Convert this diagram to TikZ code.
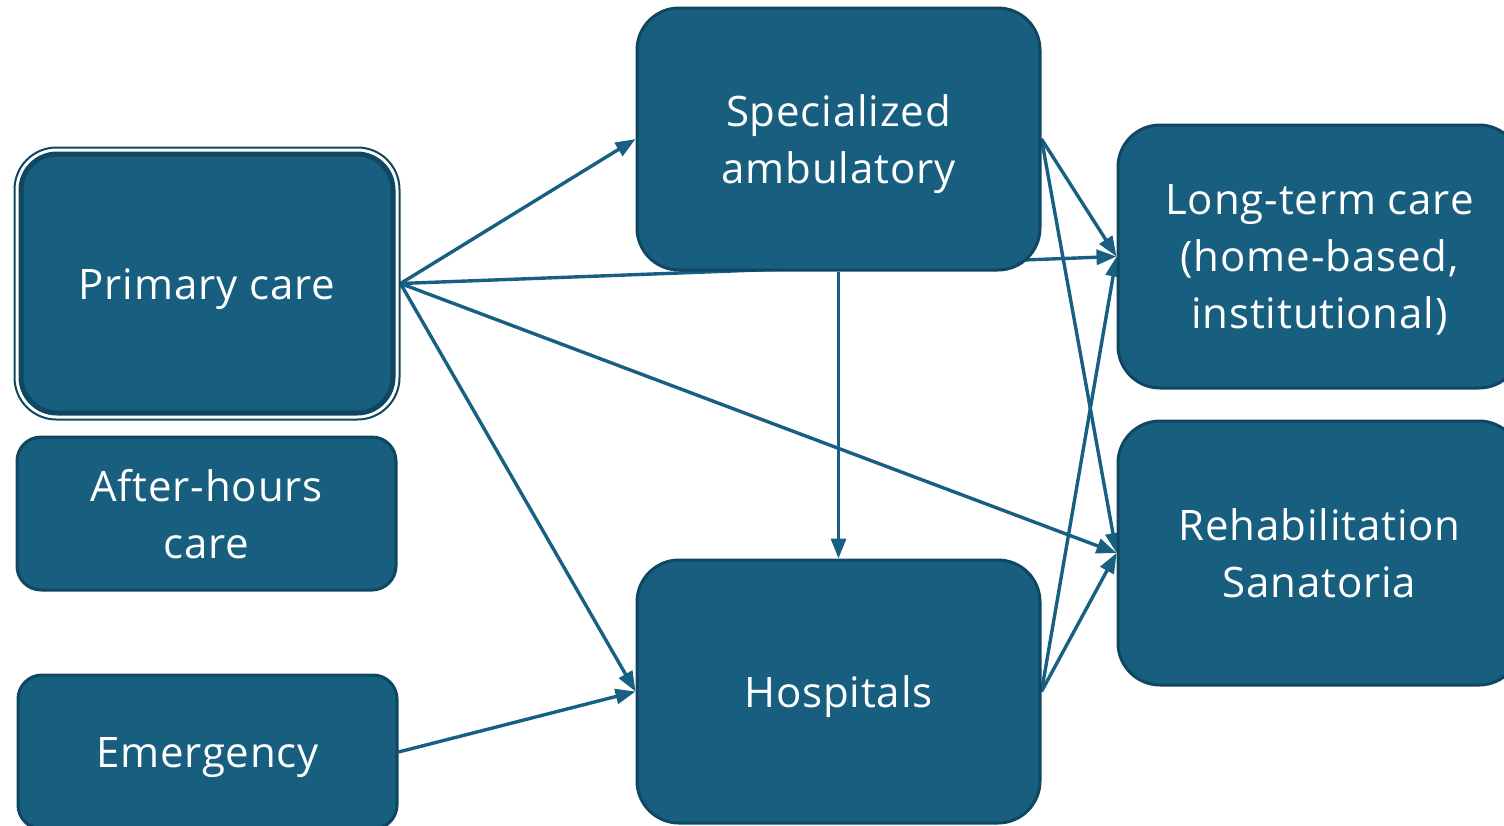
\documentclass[tikz,border=0pt]{standalone}
\usepackage{fontspec}
\setmainfont{Open Sans}[LetterSpace=2]
\usepackage{tikz}
\usetikzlibrary{arrows.meta,positioning,calc,backgrounds,fit}
\definecolor{boxfill}{RGB}{23,94,127}
\definecolor{boxline}{RGB}{15,70,97}
\definecolor{arrowblue}{RGB}{24,96,130}
\newcommand{\upstrut}{\rule{0pt}{42pt}}
\newcommand{\downstrut}{\rule[-10pt]{0pt}{10pt}}
\tikzstyle{Cbox}=[shape=rectangle,draw=boxline,fill=boxfill,line width=3pt,rounded corners=42pt,text=white,align=center,inner sep=0pt,execute at begin node=\upstrut,execute at end node=\downstrut,font=\fontsize{42}{57}\selectfont]
\tikzstyle{Sbox}=[Cbox,rounded corners=24pt]
\tikzstyle{Mlines}=[text depth=0pt]
\tikzstyle{flow}=[-{Triangle[length=20pt,width=15pt]},draw=arrowblue,line width=3.4pt]

\begin{document}
\begin{tikzpicture}[x=1pt,y=-1pt]
 \useasboundingbox (0,0) rectangle (1504,825);
 \clip (0,0) rectangle (1504,825);

\node[Cbox,line width=5pt,rounded corners=36pt,minimum width=372pt,minimum height=259pt] (prim) at (207,283.5) {Primary care};
\node[fit=(prim),inner sep=4pt,draw=boxline,line width=2pt,rounded corners=42pt] (primring) {};
\node[Sbox,Mlines,minimum width=379pt,minimum height=153pt] (after) at (206.5,513.5) {After-hours\\care};
\node[Sbox,minimum width=379pt,minimum height=154pt] (emerg) at (207.5,752) {Emergency};

\node[Cbox,Mlines,minimum width=403pt,minimum height=262pt] (spec) at (838.5,139) {Specialized\\ambulatory};
\node[Cbox,minimum width=403pt,minimum height=263pt] (hosp) at (838.5,691.5) {Hospitals};

\node[Cbox,Mlines,minimum width=403pt,minimum height=263pt] (ltc) at (1319.5,256.5) {Long-term care\\(home-based,\\institutional)};
\node[Cbox,Mlines,minimum width=403pt,minimum height=264pt] (rehab) at (1319.5,553) {Rehabilitation\\Sanatoria};

\begin{scope}[on background layer]
\path
(primring.east) edge [flow] (spec.west)
(primring.east) edge [flow] (ltc.west)
(primring.east) edge [flow] (rehab.west)
(primring.east) edge [flow] (hosp.west)

(spec.south) edge [flow] (hosp.north)
(spec.east) edge [flow] (ltc.west)
(spec.east) edge [flow] (rehab.west)

(hosp.east) edge [flow] (ltc.west)
(hosp.east) edge [flow] (rehab.west)

(emerg.east) edge [flow] (hosp.west);
\end{scope}

\end{tikzpicture}
\end{document}
